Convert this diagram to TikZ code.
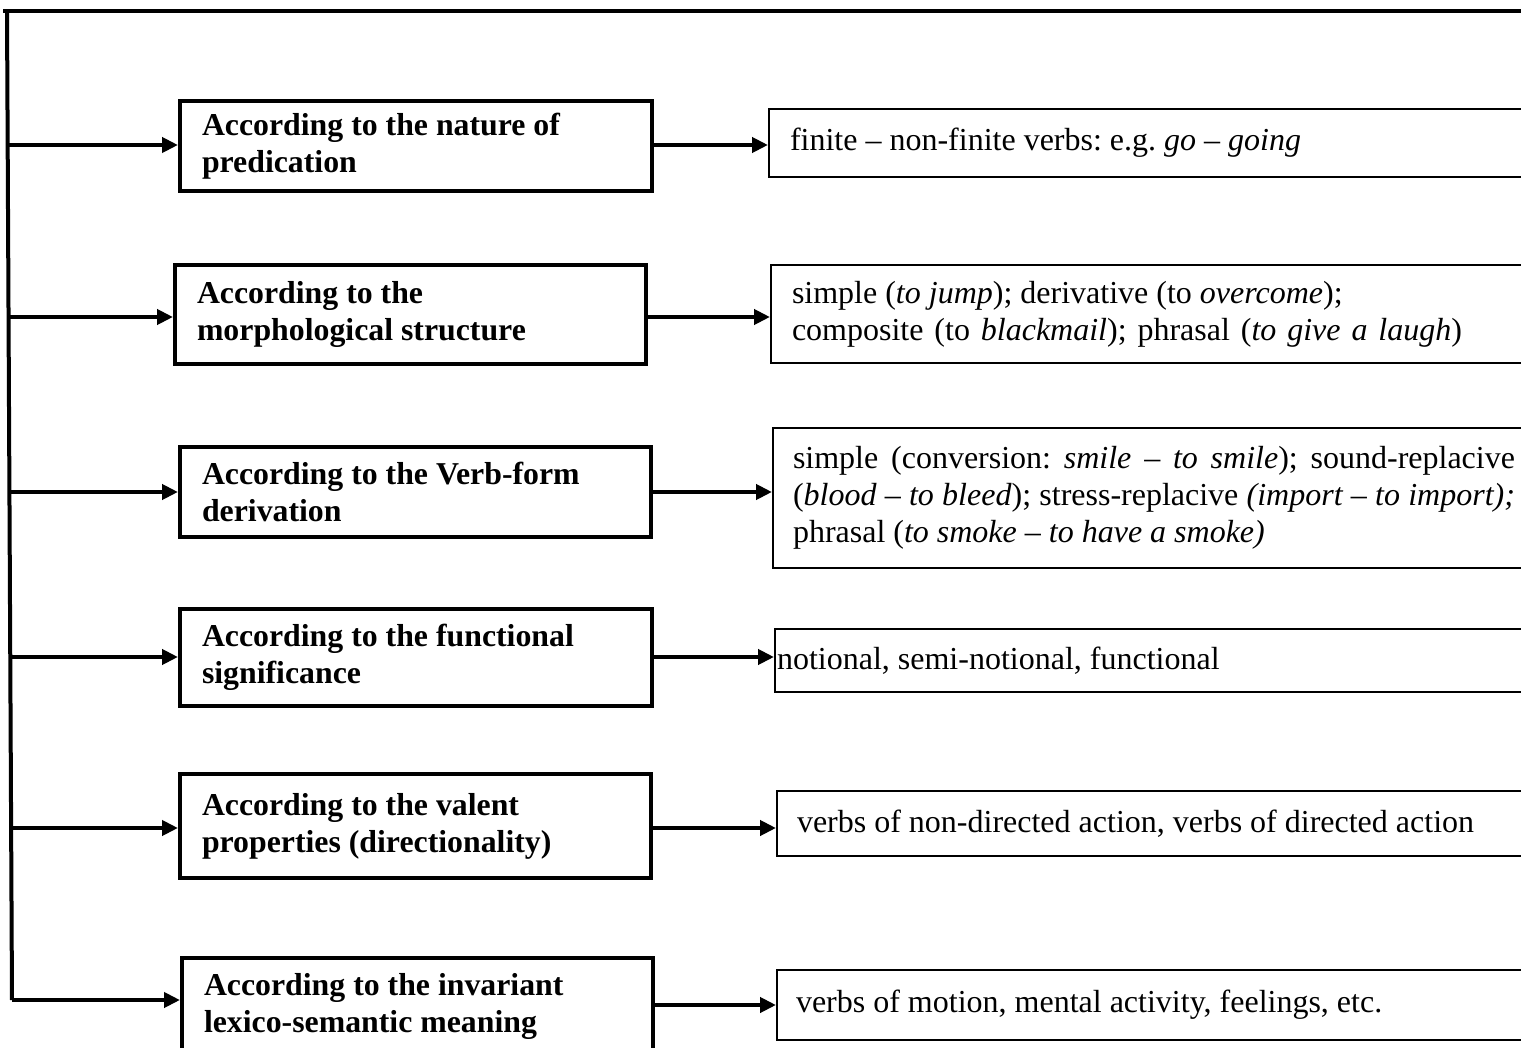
\documentclass[tikz,border=0pt]{standalone}
\usepackage{fontspec}
\setmainfont{Liberation Serif}
\usetikzlibrary{arrows.meta,calc}
\begin{document}
\frenchspacing
\begin{tikzpicture}[x=1pt,y=-1pt,
  txt/.style={font=\fontsize{32}{37}\selectfont},
  lbox/.style={draw, line width=4pt, anchor=north west, inner xsep=22pt, inner ysep=0pt,
    align=flush left, font=\fontsize{31.8}{37}\selectfont\bfseries},
  rbox/.style={draw, line width=2pt, anchor=north west, inner ysep=0pt, align=flush left, txt},
  arr/.style={line width=4pt, -{Triangle[length=16pt,width=15pt]}},
  spine/.style={line width=4pt}
]
\useasboundingbox (0,0) rectangle (1521,1048);

% left boxes
\node[lbox, minimum width=472pt, minimum height=90pt, text width=428pt] (b1) at (178,99)
  {According to the nature of\\predication};
\node[lbox, minimum width=471pt, minimum height=99pt, text width=427pt] (b2) at (173,263)
  {According to the\\morphological structure};
\node[lbox, minimum width=471pt, minimum height=90pt, text width=427pt] (b3) at (178,445)
  {According to the Verb-form\\derivation};
\node[lbox, minimum width=472pt, minimum height=97pt, text width=428pt] (b4) at (178,607)
  {According to the functional\\significance};
\node[lbox, minimum width=471pt, minimum height=104pt, text width=427pt] (b5) at (178,772)
  {According to the valent\\properties (directionality)};
\node[lbox, minimum width=471pt, minimum height=96pt, text width=427pt] (b6) at (180,956)
  {According to the invariant\\lexico-semantic meaning};

% right boxes
\node[rbox, inner xsep=21pt, minimum height=68pt, text width=740pt] (r1) at (768,108)
  {finite -- non-finite verbs: e.g. \textit{go -- going}};
\node[rbox, inner xsep=21pt, minimum height=98pt, text width=740pt] (r2) at (770,264)
  {simple (\textit{to jump}); derivative (to \textit{overcome});\\\makebox[670pt][s]{composite (to \textit{blackmail}); phrasal (\textit{to give a laugh})}};
\node[rbox, inner xsep=20pt, minimum height=140pt, text width=722pt] (r3) at (772,427)
  {\makebox[722pt][s]{simple (conversion: \textit{smile -- to smile}); sound-replacive}\\
   \makebox[722pt][s]{(\textit{blood -- to bleed}); stress-replacive \textit{(import -- to import);}}\\
   phrasal (\textit{to smoke -- to have a smoke)}};
\node[rbox, inner xsep=2pt, minimum height=63pt, text width=780pt] (r4) at (774,628)
  {notional, semi-notional, functional};
\node[rbox, inner xsep=20pt, minimum height=65pt, text width=740pt] (r5) at (776,790)
  {verbs of non-directed action, verbs of directed action};
\node[rbox, inner xsep=19pt, minimum height=70pt, text width=740pt] (r6) at (776,969)
  {verbs of motion, mental activity, feelings, etc.};

% frame lines
\coordinate (tl) at (7,11);
\coordinate (tr) at (1530,11);
\coordinate (bl) at (12,1000);
\draw[spine] (3,11) -- (tr);
\draw[spine] (tl) -- (bl);

% spine taps
\coordinate (s1) at (8,145);
\coordinate (s2) at (9,317);
\coordinate (s3) at (10,492);
\coordinate (s4) at (11,657);
\coordinate (s5) at (11,828);

\draw[arr] (s1) -- (s1 -| b1.west);
\draw[arr] (s2) -- (s2 -| b2.west);
\draw[arr] (s3) -- (s3 -| b3.west);
\draw[arr] (s4) -- (s4 -| b4.west);
\draw[arr] (s5) -- (s5 -| b5.west);
\draw[arr] (bl) -- (bl -| b6.west);

% right arrows
\draw[arr] (b1.east |- s1) -- (r1.west |- s1);
\draw[arr] (b2.east |- s2) -- (r2.west |- s2);
\draw[arr] (b3.east |- s3) -- (r3.west |- s3);
\draw[arr] (b4.east |- s4) -- (r4.west |- s4);
\draw[arr] (b5.east |- s5) -- (r5.west |- s5);
\coordinate (a6) at (653,1005);
\draw[arr] (a6) -- (a6 -| r6.west);
\end{tikzpicture}
\end{document}
